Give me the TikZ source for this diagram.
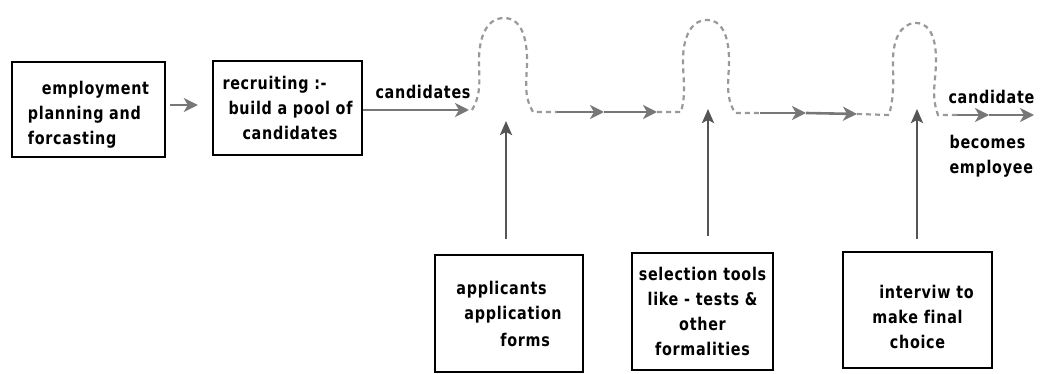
\documentclass[tikz,border=0pt]{standalone}
\usepackage{fontspec}
\setmainfont{DejaVu Sans}
\newfontfamily\stagefont{DejaVu Sans}[FakeStretch=0.82, LetterSpace=4, Ligatures=CommonOff]
\usepackage{tikz}
\usetikzlibrary{arrows.meta,positioning}
\definecolor{flowgray}{HTML}{777777}
\definecolor{dashgray}{HTML}{999999}
\definecolor{stemgray}{HTML}{555555}

\begin{document}
\begin{tikzpicture}[x=1pt, y=-1pt,
    every node/.style={font=\stagefont\bfseries\fontsize{17.5}{25}\selectfont},
    stage/.style={draw, line width=2.4pt, inner sep=0pt},
    flow/.style={draw=flowgray, line width=2.6pt, -{Stealth[length=14pt, width=14pt, inset=4pt]}},
    loopline/.style={draw=dashgray, line width=2.2pt, dash pattern=on 5pt off 4pt},
    stem/.style={draw=stemgray, line width=2.6pt, -{Stealth[length=14pt, width=12pt, inset=3pt]}}]
    \useasboundingbox (0,0) rectangle (1043,374);

    % Top row of stages
    \node[stage, minimum width=153pt, minimum height=95pt, align=left] (plan) at (88.5,109.5)
        {\rule{0pt}{23pt}\hspace{14pt}employment\\planning and\hspace{12pt}\\forcasting};
    \node[stage, minimum width=149pt, minimum height=94pt, align=left] (recruit) at (287.5,108)
        {recruiting :-\\\hspace{6pt}build a pool of\\\hspace{20pt}candidates};

    % Bottom row of stages
    \node[stage, minimum width=148pt, minimum height=117pt, align=left] (forms) at (509,313.5)
        {applicants\\\hspace{8pt}application\hspace{20pt}\\[2pt]\hspace{44pt}forms};
    \node[stage, minimum width=141pt, minimum height=117pt, align=center] (tools) at (702.5,311.5)
        {selection tools\\like - tests \&\\other\\formalities};
    \node[stage, minimum width=149pt, minimum height=116pt, align=center] (interview) at (917.5,310)
        {\rule{0pt}{27pt}\hspace{18pt}interviw to\\make final\\choice};

    % Labels on the flow
    \node (cand) at (423,92) {candidates};
    \node[anchor=west] (final) at (945,97) {candidate};
    \node[anchor=north west, align=left] (becomes) at (946,132) {becomes\\employee};

    % Points of the flow line
    \coordinate (b1in) at (472,110);
    \coordinate (b1out) at (533,112);
    \coordinate (f1) at (557,112);
    \coordinate (f2) at (604,112);
    \coordinate (f3) at (657,112);
    \coordinate (b2in) at (681,112);
    \coordinate (b2out) at (735,113);
    \coordinate (f4) at (760,113);
    \coordinate (f5) at (806,113);
    \coordinate (f6) at (857,114);
    \coordinate (b3in) at (889,115);
    \coordinate (b3out) at (938,115);
    \coordinate (f7) at (957,115);
    \coordinate (f8) at (989,115);
    \coordinate (f9) at (1034,115);

    % Arrows between stages
    \draw[flow, shorten <=4pt, shorten >=14pt] (plan.east |- 0,105) -- (recruit.west |- 0,105);
    \draw[flow, shorten >=3pt] (recruit.east |- b1in) -- (b1in);

    % Hurdles (dashed loops)
    \draw[loopline] (b1in) to[out=60, in=-90] (479,60) to[out=90, in=180] (504,18)
        to[out=0, in=90] (527,60) to[out=-90, in=120] (b1out) -- (f1);
    \draw[loopline] (f3) -- (b2in) to[out=75, in=-90] (683,60) to[out=90, in=180] (707,20)
        to[out=0, in=90] (729,60) to[out=-90, in=120] (b2out) -- (f4);
    \draw[loopline] (f6) -- (b3in) to[out=75, in=-90] (893,60) to[out=90, in=180] (916,23)
        to[out=0, in=90] (936,60) to[out=-90, in=110] (b3out) -- (f7);

    % Solid flow pieces between hurdles
    \draw[flow] (f1) -- (f2);
    \draw[flow] (f2) -- (f3);
    \draw[flow] (f4) -- (f5);
    \draw[flow] (f5) -- (f6);
    \draw[flow] (f7) -- (f8);
    \draw[flow] (f8) -- (f9);

    % Inputs from below
    \coordinate (s1) at (506,121);
    \coordinate (s2) at (708,109);
    \coordinate (s3) at (917,109);
    \draw[stem, shorten <=15pt] (forms.north -| s1) -- (s1);
    \draw[stem, shorten <=16pt] (tools.north -| s2) -- (s2);
    \draw[stem, shorten <=12pt] (interview.north -| s3) -- (s3);
\end{tikzpicture}
\end{document}
